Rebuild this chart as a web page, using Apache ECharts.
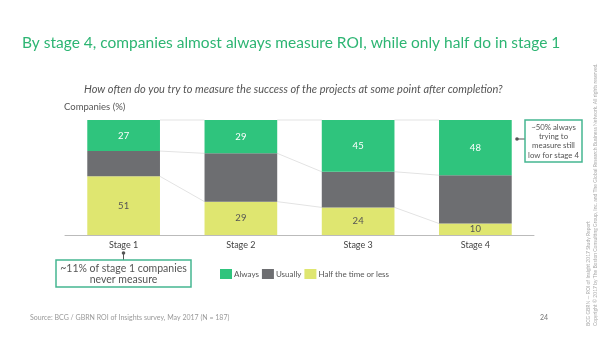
<!DOCTYPE html>
<html>
<head>
<meta charset="utf-8">
<script src="https://cdn.jsdelivr.net/npm/echarts@6/dist/echarts.min.js"></script>
<style>
  html, body { margin: 0; padding: 0; background: #fff; }
  #chart { width: 600px; height: 337px; }
</style>
</head>
<body>
<div id="chart"></div>
<script>
// Share of companies by how often they measure project success, per stage
const stages = ['Stage 1', 'Stage 2', 'Stage 3', 'Stage 4'];
const always = [27, 29, 45, 48];
const usually = [22, 42, 31, 42];
const halfOrLess = [51, 29, 24, 10];
const seriesNames = ['Always', 'Usually', 'Half the time or less'];

const GREEN = '#2fc47d';
const GREY = '#6d6e71';
const YELLOW = '#dfe670';
const FONT = 'Lato, "Open Sans", sans-serif';
const BAR_RATIO = 0.62;

// cumulative boundaries of each stacked column (bottom → top)
const boundaries = stages.map((s, i) => [
  halfOrLess[i],
  halfOrLess[i] + usually[i],
  halfOrLess[i] + usually[i] + always[i]
]);
const connectorData = stages.slice(0, -1).map((s, i) => [i].concat(boundaries[i], boundaries[i + 1]));

const chart = echarts.init(document.getElementById('chart'));

chart.setOption({
  animation: false,
  textStyle: { fontFamily: FONT },
  title: [
    {
      text: 'By stage 4, companies almost always measure ROI, while only half do in stage 1',
      left: 22, top: 35, padding: 0,
      textStyle: { color: '#2db573', fontSize: 15.5, fontWeight: 'normal', fontFamily: FONT }
    },
    {
      text: 'How often do you try to measure the success of the projects at some point after completion?',
      left: 84, top: 84, padding: 0,
      textStyle: { color: '#555', fontSize: 11, fontStyle: 'italic', fontWeight: 'normal', fontFamily: FONT }
    },
    {
      text: 'Companies (%)',
      left: 64, top: 102, padding: 0,
      textStyle: { color: '#555', fontSize: 9.5, fontWeight: 'normal', fontFamily: FONT }
    }
  ],
  legend: {
    left: 220, top: 269, padding: 0,
    itemWidth: 12, itemHeight: 10, itemGap: 3,
    icon: 'rect',
    data: [seriesNames[0], seriesNames[1], seriesNames[2]],
    textStyle: { color: '#555', fontSize: 8, fontFamily: FONT, padding: [0, 0, 0, -3] }
  },
  grid: { left: 65, right: 66, top: 120, bottom: 102 },
  xAxis: {
    type: 'category',
    data: stages,
    axisLine: { lineStyle: { color: '#bbb', width: 1 } },
    axisTick: { show: false },
    axisLabel: { color: '#444', fontSize: 9, margin: 6 }
  },
  yAxis: {
    type: 'value', min: 0, max: 100, show: false
  },
  series: [
    {
      name: 'connectors',
      type: 'custom',
      silent: true,
      z: 1,
      data: connectorData,
      encode: { x: 0 },
      renderItem: function (params, api) {
        const i = api.value(0);
        const band = api.size([1, 0])[0];
        const half = band * BAR_RATIO / 2;
        const lines = [];
        for (let k = 0; k < 3; k++) {
          const a = api.coord([i, api.value(1 + k)]);
          const b = api.coord([i + 1, api.value(4 + k)]);
          lines.push({
            type: 'line',
            shape: { x1: a[0] + half, y1: a[1], x2: b[0] - half, y2: b[1] },
            style: { stroke: '#e3e3e3', lineWidth: 1 }
          });
        }
        return { type: 'group', children: lines };
      }
    },
    {
      name: seriesNames[2], type: 'bar', stack: 'total', barWidth: '62%', z: 2,
      data: halfOrLess,
      itemStyle: { color: YELLOW },
      label: { show: true, position: 'inside', color: '#555', fontSize: 9.5 }
    },
    {
      name: seriesNames[1], type: 'bar', stack: 'total', barWidth: '62%', z: 2,
      data: usually,
      itemStyle: { color: GREY },
      label: { show: false }
    },
    {
      name: seriesNames[0], type: 'bar', stack: 'total', barWidth: '62%', z: 2,
      data: always,
      itemStyle: { color: GREEN },
      label: { show: true, position: 'inside', color: '#fff', fontSize: 9.5 }
    }
  ],
  graphic: [
    // callout under stage 1
    { type: 'circle', shape: { cx: 123.5, cy: 253, r: 1.8 }, style: { fill: '#555' } },
    { type: 'line', shape: { x1: 123.5, y1: 253, x2: 123.5, y2: 260 }, style: { stroke: '#555', lineWidth: 1 } },
    {
      type: 'rect', shape: { x: 56, y: 260, width: 135, height: 27 },
      style: { fill: '#fff', stroke: '#45b691', lineWidth: 1.5 }
    },
    {
      type: 'text', x: 123.5, y: 262.5,
      style: {
        text: '~11% of stage 1 companies\nnever measure',
        textAlign: 'center',
        fill: '#555', fontSize: 10.5, lineHeight: 11.5, fontFamily: FONT
      }
    },
    // callout beside stage 4
    { type: 'circle', shape: { cx: 517, cy: 139, r: 1.8 }, style: { fill: '#555' } },
    { type: 'line', shape: { x1: 517, y1: 139, x2: 525, y2: 139 }, style: { stroke: '#555', lineWidth: 1 } },
    {
      type: 'rect', shape: { x: 525, y: 120, width: 57, height: 42 },
      style: { fill: '#fff', stroke: '#45b691', lineWidth: 1.5 }
    },
    {
      type: 'text', x: 553.5, y: 122.5,
      style: {
        text: '~50% always\ntrying to\nmeasure still\nlow for stage 4',
        textAlign: 'center', fill: '#555', fontSize: 7.8, lineHeight: 9.3, fontFamily: FONT
      }
    },
    // footer
    {
      type: 'text', x: 30, y: 314,
      style: { text: 'Source: BCG / GBRN ROI of Insights survey, May 2017 (N = 187)', fill: '#999', fontSize: 7, fontFamily: FONT }
    },
    {
      type: 'text', x: 540, y: 314,
      style: { text: '24', fill: '#777', fontSize: 7, fontFamily: FONT }
    },
    {
      type: 'text', x: 588, y: 326, rotation: Math.PI / 2,
      style: { text: 'BCG GBRN — ROI of Insight 2017 Study Report', fill: '#aaa', fontSize: 5, fontFamily: FONT, textVerticalAlign: 'middle' }
    },
    {
      type: 'text', x: 595, y: 326, rotation: Math.PI / 2,
      style: { text: 'Copyright © 2017 by The Boston Consulting Group, Inc. and The Global Research Business Network. All rights reserved.', fill: '#aaa', fontSize: 5, fontFamily: FONT, textVerticalAlign: 'middle' }
    }
  ]
});
</script>
</body>
</html>
